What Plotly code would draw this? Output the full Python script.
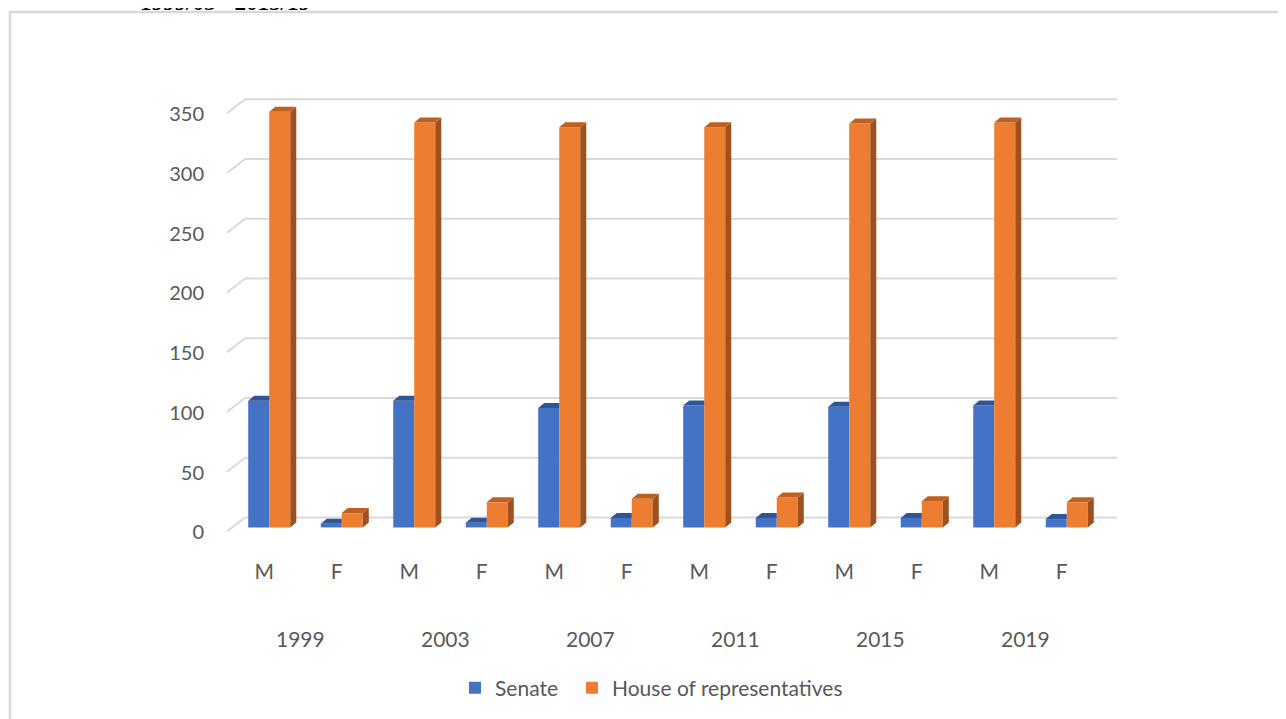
import plotly.graph_objects as go

# ---- data ----
years = ["1999", "2003", "2007", "2011", "2015", "2019"]
genders = ["M", "F"]
senate = [106, 3, 106, 4, 100, 8, 102, 8, 101, 8, 102, 7]
house = [348, 12, 339, 21, 335, 24, 335, 25, 338, 22, 339, 21]
y_ticks = [0, 50, 100, 150, 200, 250, 300, 350]

# ---- layout constants (page has an 8px body margin) ----
W, H = 1286, 719
ML, MT = 225, 75
PW, PH = 870, 454
MR = W - ML - PW
MB = H - MT - PH
PLOT_LEFT_PAGE = ML + 8
PLOT_BOTTOM_PAGE = MT + PH + 8
Y_RANGE = [-8, 372]
PX_PER_UNIT = PH / (Y_RANGE[1] - Y_RANGE[0])
N = len(senate)
PX_PER_CAT = PW / N
BW = 0.29                      # bar width in category units
BW_PX = BW * PX_PER_CAT
DX, DY = 6, 5                  # 3D depth in px
DY_DATA = DY / PX_PER_UNIT

C_BLUE = "#4472C4"
C_BLUE_TOP = "#2F5597"
C_OR = "#ED7D31"
C_OR_TOP = "#C0601F"
C_OR_SIDE = "#9E501E"
C_TEXT = "#595959"
C_GRID = "#D9D9D9"
FONT = "Lato"


def px_x(page_x):
    return (page_x - PLOT_LEFT_PAGE) / PW


def px_y(page_y):
    return (PLOT_BOTTOM_PAGE - page_y) / PH


labels = [g for _ in years for g in genders]
xs = list(range(N))

fig = go.Figure()
fig.add_trace(go.Bar(x=xs, y=senate, name="Senate", marker_color=C_BLUE,
                     width=BW, offset=-BW, marker_line_width=0, legend="legend"))
fig.add_trace(go.Bar(x=xs, y=house, name="House of representatives",
                     marker_color=C_OR, width=BW, offset=0, marker_line_width=0,
                     legend="legend2"))

shapes = []
# back-wall gridlines and left slanted stubs
for v in y_ticks:
    shapes.append(dict(type="line", xref="paper", yref="y", xsizemode="pixel",
                       ysizemode="pixel", xanchor=0, yanchor=v,
                       x0=12, x1=884, y0=10, y1=10,
                       line=dict(color=C_GRID, width=2), layer="below"))
    shapes.append(dict(type="line", xref="paper", yref="y", xsizemode="pixel",
                       ysizemode="pixel", xanchor=0, yanchor=v,
                       x0=-6, x1=12, y0=-4, y1=10,
                       line=dict(color=C_GRID, width=2), layer="below"))

# 3D faces derived from the data
for i, (s, h) in enumerate(zip(senate, house)):
    shapes.append(dict(type="path", xref="x", yref="y", xsizemode="pixel",
                       ysizemode="pixel", xanchor=i - BW, yanchor=s,
                       path=f"M0,0 L{BW_PX:.2f},0 L{BW_PX:.2f},{DY} L{DX},{DY} Z",
                       fillcolor=C_BLUE_TOP, line=dict(width=0), layer="above"))
    shapes.append(dict(type="path", xref="x", yref="y", xsizemode="pixel",
                       ysizemode="scaled", xanchor=i + BW,
                       path=f"M0,0 L0,{h} L{DX},{h + DY_DATA:.3f} L{DX},{DY_DATA:.3f} Z",
                       fillcolor=C_OR_SIDE, line=dict(width=0), layer="above"))
    shapes.append(dict(type="path", xref="x", yref="y", xsizemode="pixel",
                       ysizemode="pixel", xanchor=i, yanchor=h,
                       path=f"M0,0 L{BW_PX:.2f},0 L{BW_PX + DX:.2f},{DY} L{DX},{DY} Z",
                       fillcolor=C_OR_TOP, line=dict(width=0), layer="above"))

# outer chart frame
shapes.append(dict(type="rect", xref="paper", yref="paper",
                   x0=px_x(10), x1=2.0, y0=-2.0, y1=px_y(12),
                   line=dict(color=C_GRID, width=2.5), fillcolor="rgba(0,0,0,0)",
                   layer="below"))

annotations = []
for k, yr in enumerate(years):
    annotations.append(dict(x=2 * k + 0.5, xref="x", y=px_y(638), yref="paper",
                            text=yr, showarrow=False, xanchor="center",
                            yanchor="middle", xshift=-5,
                            font=dict(family=FONT, size=21, color=C_TEXT)))
# title, clipped at the top edge as in the source
annotations.append(dict(x=px_x(225), xref="paper", y=1, yref="paper",
                        text="<b>1999/03 - 2015/19</b>", showarrow=False,
                        xanchor="center", yanchor="bottom", yshift=66,
                        font=dict(family="Liberation Serif", size=23, color="#000000")))

leg_font = dict(family=FONT, size=21, color=C_TEXT)
fig.update_layout(
    width=W, height=H,
    margin=dict(l=ML, r=MR, t=MT, b=MB, pad=0, autoexpand=False),
    paper_bgcolor="white", plot_bgcolor="white",
    barmode="overlay",
    shapes=shapes, annotations=annotations,
    showlegend=True,
    legend=dict(orientation="h", x=px_x(455), xanchor="left",
                y=px_y(688), yanchor="middle", font=leg_font,
                bgcolor="rgba(0,0,0,0)", borderwidth=0),
    legend2=dict(orientation="h", x=px_x(572), xanchor="left",
                 y=px_y(688), yanchor="middle", font=leg_font,
                 bgcolor="rgba(0,0,0,0)", borderwidth=0),
    xaxis=dict(range=[-0.5, N - 0.5], tickmode="array", tickvals=xs,
               ticktext=labels, showgrid=False, zeroline=False, showline=False,
               ticks="", ticklabelstandoff=20, ticklabelshift=-5,
               tickfont=dict(family=FONT, size=21, color=C_TEXT)),
    yaxis=dict(range=Y_RANGE, tickmode="array", tickvals=y_ticks,
               showgrid=False, zeroline=False, showline=False, ticks="",
               ticklabelstandoff=28, ticklabelshift=5,
               tickfont=dict(family=FONT, size=20, color=C_TEXT)),
    font=dict(family=FONT, color=C_TEXT),
)

fig.write_html("out.html")
